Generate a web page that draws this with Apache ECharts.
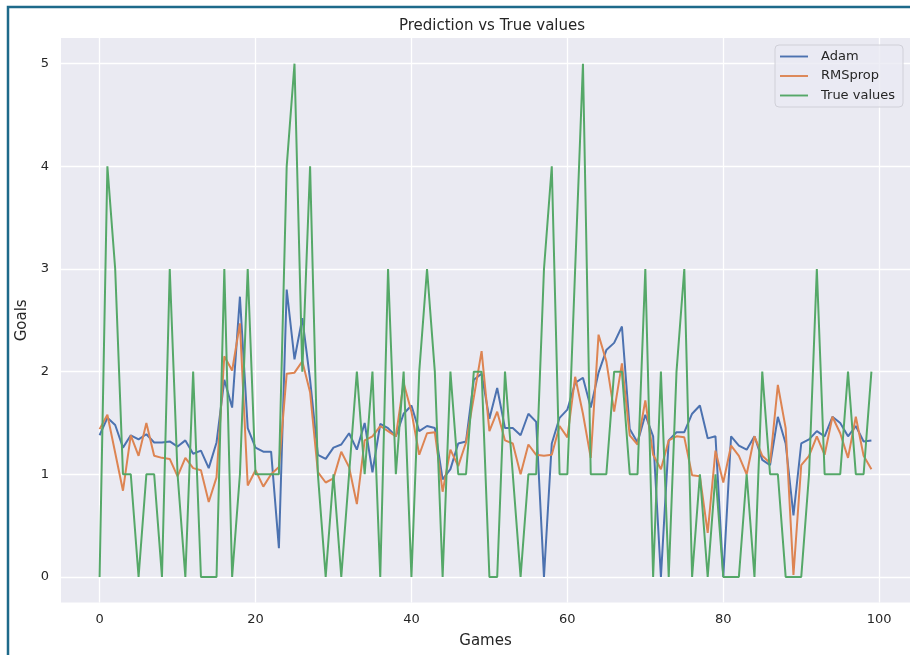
<!DOCTYPE html>
<html>
<head>
<meta charset="utf-8">
<title>Prediction vs True values</title>
<script src="https://cdn.jsdelivr.net/npm/echarts@6/dist/echarts.min.js"></script>
<style>
  html, body { margin: 0; padding: 0; background: #ffffff; }
  #chart { width: 910px; height: 655px; }
</style>
</head>
<body>
<div id="chart"></div>
<script>
// Game index on the x axis (0..99)
const games = Array.from({ length: 100 }, (_, i) => i);

// Goals predicted by the model trained with Adam
const adam = [
  1.38, 1.55, 1.48, 1.26, 1.38, 1.34, 1.39, 1.31, 1.31, 1.32,
  1.27, 1.33, 1.20, 1.23, 1.06, 1.31, 1.92, 1.65, 2.73, 1.45,
  1.26, 1.22, 1.22, 0.28, 2.80, 2.12, 2.52, 1.92, 1.19, 1.15,
  1.26, 1.29, 1.40, 1.24, 1.50, 1.02, 1.49, 1.45, 1.37, 1.59,
  1.67, 1.42, 1.47, 1.45, 0.95, 1.05, 1.30, 1.32, 1.92, 1.98,
  1.54, 1.84, 1.45, 1.45, 1.38, 1.59, 1.51, 0.00, 1.30, 1.55,
  1.63, 1.89, 1.94, 1.65, 1.99, 2.21, 2.28, 2.44, 1.44, 1.31,
  1.58, 1.37, 0.00, 1.33, 1.41, 1.41, 1.59, 1.67, 1.35, 1.37,
  0.00, 1.37, 1.28, 1.24, 1.37, 1.14, 1.09, 1.56, 1.30, 0.60,
  1.30, 1.34, 1.42, 1.37, 1.56, 1.50, 1.37, 1.47, 1.32, 1.33
];

// Goals predicted by the model trained with RMSprop
const rmsprop = [
  1.44, 1.58, 1.21, 0.84, 1.38, 1.18, 1.50, 1.18, 1.16, 1.15,
  0.98, 1.16, 1.06, 1.04, 0.73, 0.97, 2.15, 2.01, 2.47, 0.89,
  1.04, 0.88, 1.00, 1.07, 1.98, 1.99, 2.10, 1.80, 1.02, 0.92,
  0.96, 1.22, 1.07, 0.71, 1.33, 1.37, 1.47, 1.42, 1.37, 1.89,
  1.61, 1.19, 1.40, 1.41, 0.83, 1.24, 1.08, 1.31, 1.75, 2.20,
  1.42, 1.61, 1.33, 1.30, 1.00, 1.29, 1.19, 1.18, 1.19, 1.47,
  1.36, 1.95, 1.59, 1.16, 2.36, 2.10, 1.61, 2.08, 1.38, 1.29,
  1.72, 1.19, 1.05, 1.33, 1.37, 1.36, 0.99, 0.98, 0.43, 1.23,
  0.92, 1.28, 1.18, 1.00, 1.37, 1.18, 1.11, 1.87, 1.45, 0.02,
  1.09, 1.18, 1.37, 1.19, 1.56, 1.40, 1.16, 1.56, 1.18, 1.05
];

// Goals actually scored
const trueValues = [
  0, 4, 3, 1, 1, 0, 1, 1, 0, 3,
  1, 0, 2, 0, 0, 0, 3, 0, 1, 3,
  1, 1, 1, 1, 4, 5, 2, 4, 1, 0,
  1, 0, 1, 2, 1, 2, 0, 3, 1, 2,
  0, 2, 3, 2, 0, 2, 1, 1, 2, 2,
  0, 0, 2, 1, 0, 1, 1, 3, 4, 1,
  1, 3, 5, 1, 1, 1, 2, 2, 1, 1,
  3, 0, 2, 0, 2, 3, 0, 1, 0, 1,
  0, 0, 0, 1, 0, 2, 1, 1, 0, 0,
  0, 1, 3, 1, 1, 1, 2, 1, 1, 2
];

// Tick labels
const xTicks = [0, 20, 40, 60, 80, 100];
const yTicks = [0, 1, 2, 3, 4, 5];

const seriesNames = ['Adam', 'RMSprop', 'True values'];
const seriesColors = ['#4c72b0', '#dd8452', '#55a868'];
const seriesValues = [adam, rmsprop, trueValues];

const textColor = '#262626';
const fontFamily = 'DejaVu Sans, sans-serif';

// Plain line swatch for the legend entries
const lineIcon = 'path://M0,0 L28,0 L28,1.9 L0,1.9 Z';

const chart = echarts.init(document.getElementById('chart'), null, { renderer: 'canvas' });

chart.setOption({
  animation: false,
  backgroundColor: '#ffffff',
  color: seriesColors,
  textStyle: { fontFamily: fontFamily, color: textColor },
  title: {
    text: 'Prediction vs True values',
    left: 487,
    top: 14,
    textAlign: 'center',
    textStyle: { fontFamily: fontFamily, fontSize: 15, fontWeight: 'normal', color: textColor }
  },
  graphic: [
    {
      type: 'rect',
      silent: true,
      z: 100,
      shape: { x: 8, y: 7, width: 1200, height: 1000 },
      style: { fill: 'none', stroke: '#1e6a8a', lineWidth: 2.5 }
    }
  ],
  legend: {
    orient: 'vertical',
    left: 775,
    top: 45,
    padding: [5, 8, 5, 5],
    itemWidth: 28,
    itemHeight: 14,
    itemGap: 6.5,
    icon: lineIcon,
    symbolKeepAspect: true,
    backgroundColor: 'rgba(234,234,242,0.8)',
    borderColor: '#d0d0d8',
    borderWidth: 1,
    borderRadius: 4,
    textStyle: { fontFamily: fontFamily, fontSize: 13, color: textColor, padding: [0, 0, 0, 8] },
    data: seriesNames
  },
  grid: {
    left: 61,
    right: -3,
    top: 38,
    bottom: 52.4,
    show: true,
    backgroundColor: '#eaeaf2',
    borderWidth: 0
  },
  xAxis: {
    type: 'value',
    min: -4.95,
    max: 103.95,
    name: 'Games',
    nameLocation: 'middle',
    nameGap: 31,
    nameTextStyle: { fontFamily: fontFamily, fontSize: 15, color: textColor },
    axisLine: { show: false },
    axisTick: { show: false, customValues: xTicks },
    axisLabel: {
      customValues: xTicks,
      margin: 11,
      fontFamily: fontFamily,
      fontSize: 13,
      color: textColor
    },
    splitLine: { show: true, lineStyle: { color: '#ffffff', width: 1.3 } }
  },
  yAxis: {
    type: 'value',
    min: -0.25,
    max: 5.25,
    name: 'Goals',
    nameLocation: 'middle',
    nameGap: 25,
    nameRotate: 90,
    nameTextStyle: { fontFamily: fontFamily, fontSize: 15, color: textColor },
    axisLine: { show: false },
    axisTick: { show: false, customValues: yTicks },
    axisLabel: {
      customValues: yTicks,
      margin: 12,
      fontFamily: fontFamily,
      fontSize: 13,
      color: textColor
    },
    splitLine: { show: true, lineStyle: { color: '#ffffff', width: 1.3 } }
  },
  series: seriesNames.map((name, k) => ({
    name: name,
    type: 'line',
    symbol: 'none',
    showSymbol: false,
    lineStyle: { width: 2, color: seriesColors[k] },
    itemStyle: { color: seriesColors[k] },
    data: games.map((g, i) => [g, seriesValues[k][i]])
  }))
});
</script>
</body>
</html>
